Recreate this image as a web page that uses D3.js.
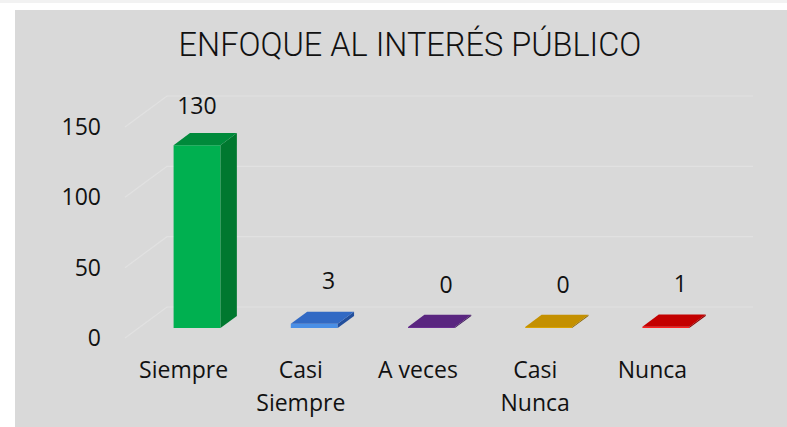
<!DOCTYPE html>
<html><head><meta charset="utf-8">
<script src="https://cdn.jsdelivr.net/npm/d3@7"></script>
<style>
html,body{margin:0;padding:0;background:#fff;}
svg{display:block;}
text{font-family:"Open Sans",Lato,sans-serif;fill:#111;}
</style></head>
<body><svg id="c" width="787" height="427"></svg>
<script>
const title = "ENFOQUE AL INTERÉS PÚBLICO";
const categories = ["Siempre", "Casi Siempre", "A veces", "Casi Nunca", "Nunca"];
const values = [130, 3, 0, 0, 1];
const tickValues = [0, 50, 100, 150];
const colors = [
  {front:"#00b050", side:"#00782f", top:"#008a3b"},
  {front:"#4a8fe6", side:"#234f9c", top:"#3169c4"},
  {front:"#6a2f92", side:"#3d1858", top:"#5a2680"},
  {front:"#d9a300", side:"#8a6600", top:"#c49000"},
  {front:"#ff1f1f", side:"#8c0000", top:"#c30000"}
];

const svg = d3.select("#c");
svg.append("rect").attr("x",0).attr("y",0).attr("width",787).attr("height",3).attr("fill","#f2f2f2");
svg.append("rect").attr("x",15).attr("y",10).attr("width",772).attr("height",417).attr("fill","#d9d9d9");

const DX = 42, DY = -31; // depth projection per unit depth
const x = d3.scaleBand().domain(categories).range([125, 711]).padding(0);
const y = d3.scaleLinear().domain([0,150]).range([338,127]);
const P = (px, v, z) => [px + z*DX, y(v) + z*DY];

// gridlines: side floor diagonal + back wall
const g = svg.append("g");
tickValues.forEach(t => {
  const a = P(125, t, 0), b = P(125, t, 1), c = P(711, t, 1);
  g.append("path").attr("d", d3.line()([a,b,c])).attr("fill","none")
    .attr("stroke","#e1e1e1").attr("stroke-width",1.2);
  svg.append("text").attr("x",101).attr("y",a[1]).attr("dy","0.35em")
    .attr("text-anchor","end").attr("font-size",23).text(t);
});

// bars
const z0 = 0.32, z1 = 0.71, bw = x.bandwidth()*0.4;
const line = d3.line();
categories.forEach((cat, i) => {
  const v = values[i];
  const c = x(cat) + x.bandwidth()/2;
  const x0 = c - bw/2, x1 = c + bw/2;
  const top = Math.max(v, 0.8);
  const col = colors[i];
  const bar = svg.append("g");
  bar.append("path").attr("d", line([P(x0,top,z0),P(x1,top,z0),P(x1,0,z0),P(x0,0,z0)])+"Z").attr("fill",col.front);
  bar.append("path").attr("d", line([P(x1,top,z0),P(x1,top,z1),P(x1,0,z1),P(x1,0,z0)])+"Z").attr("fill",col.side);
  bar.append("path").attr("d", line([P(x0,top,z0),P(x1,top,z0),P(x1,top,z1),P(x0,top,z1)])+"Z").attr("fill",col.top);
  // value label
  const f = v/150;
  const lx = c + 28 - 17*f;
  const ly = y(v) + z0*DY - 35 + 4*f;
  svg.append("text").attr("x", lx).attr("y", ly).attr("text-anchor","middle")
    .attr("font-size",23).text(v);
  // category label
  const words = cat.split(" ");
  const lines = (words.length === 2 && words[0] === "Casi") ? [words[0], words[1]] : [cat];
  lines.forEach((ln, k) => {
    svg.append("text").attr("x", c).attr("y", 378 + k*33).attr("text-anchor","middle")
      .attr("font-size",23).text(ln);
  });
});

svg.append("text").attr("x",410).attr("y",56).attr("text-anchor","middle")
  .style("font-family","Roboto, sans-serif")
  .attr("font-size",32.5).attr("font-weight",300).text(title);
</script></body></html>
